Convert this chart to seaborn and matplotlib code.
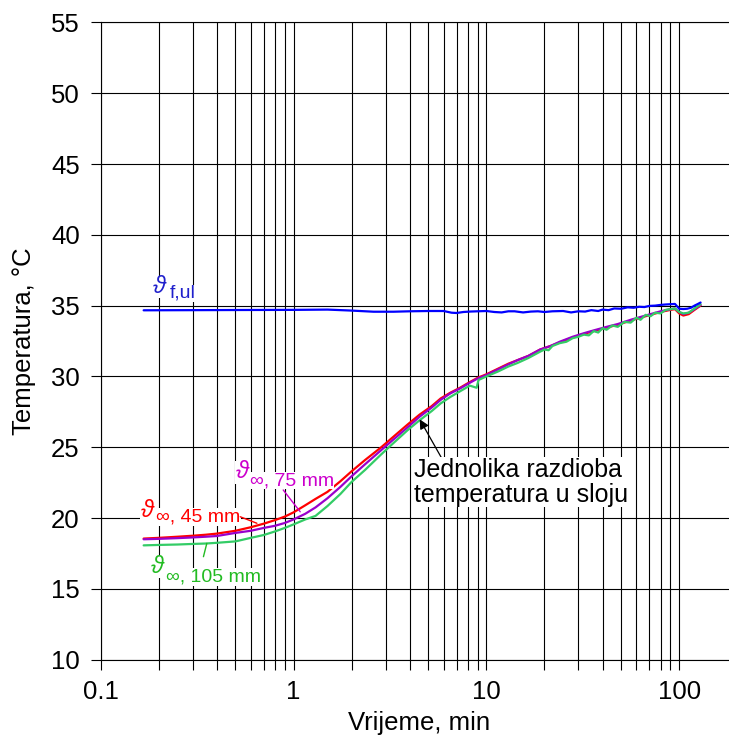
import numpy as np
import pandas as pd
import matplotlib
matplotlib.use("Agg")
import matplotlib.pyplot as plt
from matplotlib.ticker import FixedLocator, FuncFormatter, NullFormatter
import seaborn as sns

# ---------------------------------------------------------
# Data
# ---------------------------------------------------------

# time grid for the layer curves 45 mm and 75 mm [min]
t_layer = [0.167, 0.2, 0.25, 0.3, 0.35, 0.4, 0.5, 0.6, 0.7, 0.8, 0.9, 1.0,
           1.15, 1.3, 1.5, 1.75, 2.0, 2.35, 2.85, 3.3, 3.9, 4.5, 5.2, 5.8,
           6.5, 7.3, 8.2, 9.0, 10, 11.5, 13, 14.5, 16.5, 19, 21.5, 24, 28,
           32, 36, 42, 48, 56, 63, 71, 80, 90, 95, 100, 105, 112, 120, 129]

T_45 = [18.55, 18.6, 18.68, 18.75, 18.82, 18.9, 19.1, 19.35, 19.6, 19.85,
        20.1, 20.4, 20.9, 21.35, 21.85, 22.6, 23.3, 24.1, 25.0, 25.75, 26.6,
        27.3, 27.9, 28.45, 28.85, 29.2, 29.6, 29.9, 30.15, 30.55, 30.9,
        31.15, 31.45, 31.9, 32.15, 32.4, 32.75, 33.0, 33.2, 33.45, 33.65,
        33.95, 34.15, 34.35, 34.55, 34.7, 34.75, 34.45, 34.3, 34.4, 34.7, 35.0]

T_75 = [18.5, 18.53, 18.58, 18.63, 18.68, 18.73, 18.95, 19.1, 19.3, 19.45,
        19.65, 19.9, 20.3, 20.75, 21.4, 22.2, 22.95, 23.8, 24.8, 25.55, 26.4,
        27.15, 27.8, 28.35, 28.8, 29.15, 29.55, 29.85, 30.1, 30.5, 30.85,
        31.15, 31.45, 31.9, 32.15, 32.45, 32.8, 33.05, 33.25, 33.5, 33.7,
        34.0, 34.2, 34.4, 34.6, 34.75, 34.8, 34.55, 34.4, 34.5, 34.75, 35.05]

t_105 = [0.167, 0.2, 0.25, 0.3, 0.35, 0.4, 0.5, 0.6, 0.7, 0.8, 0.9, 1.0,
         1.15, 1.3, 1.5, 1.75, 2.0, 2.35, 2.85, 3.3, 3.9, 4.5, 5.2, 5.8,
         6.5, 7.3, 8.2, 8.9, 9.1, 10, 11.5, 13, 14.5, 16.5, 19, 20, 21, 22,
         24, 26, 28, 30, 32, 34, 36, 38, 40, 42, 45, 48, 52, 56, 60, 63, 67,
         71, 75, 80, 85, 90, 95, 100, 105, 112, 120, 129]

T_105 = [18.07, 18.1, 18.13, 18.17, 18.2, 18.25, 18.35, 18.6, 18.8, 19.05,
         19.3, 19.55, 19.9, 20.15, 20.85, 21.7, 22.55, 23.4, 24.5, 25.3, 26.2,
         26.9, 27.55, 28.1, 28.55, 28.95, 29.35, 29.2, 29.75, 30.0, 30.35,
         30.7, 30.95, 31.3, 31.75, 31.9, 31.85, 32.15, 32.35, 32.45, 32.7,
         32.8, 32.95, 32.9, 33.2, 33.1, 33.4, 33.3, 33.6, 33.5, 33.85, 33.8,
         34.15, 34.0, 34.35, 34.25, 34.5, 34.45, 34.7, 34.75, 34.8, 34.55,
         34.45, 34.5, 34.8, 35.1]

t_ul = [0.167, 0.3, 0.5, 1.0, 1.5, 2.0, 2.6, 3.3, 4.0, 5.0, 6.0, 6.6, 7.0,
        7.6, 8.2, 9.0, 10, 11, 12, 13, 14, 15.5, 17, 18.5, 20, 22, 25, 27.5,
        30, 32.5, 35, 38, 40, 43, 46, 50, 54, 58, 62, 66, 70, 75, 80, 85, 90,
        95, 100, 105, 110, 115, 120, 125, 129]

T_ul = [34.67, 34.68, 34.69, 34.7, 34.72, 34.65, 34.57, 34.57, 34.6, 34.62,
        34.62, 34.5, 34.48, 34.55, 34.58, 34.6, 34.62, 34.55, 34.52, 34.6,
        34.6, 34.52, 34.58, 34.6, 34.55, 34.6, 34.62, 34.52, 34.6, 34.58,
        34.68, 34.62, 34.72, 34.68, 34.8, 34.78, 34.88, 34.85, 34.92, 34.9,
        34.98, 35.0, 35.05, 35.08, 35.1, 35.12, 34.78, 34.76, 34.78, 34.85,
        35.0, 35.12, 35.22]

series_names = ["45", "75", "105", "ul"]
colors = {"45": "#FF0000", "75": "#9900CC", "105": "#33CC66", "ul": "#0000FF"}

y_ticks = [10, 15, 20, 25, 30, 35, 40, 45, 50, 55]
x_ticks = [0.1, 1, 10, 100]

df = pd.concat([
    pd.DataFrame({"t": t_layer, "T": T_45, "serija": "45"}),
    pd.DataFrame({"t": t_layer, "T": T_75, "serija": "75"}),
    pd.DataFrame({"t": t_105, "T": T_105, "serija": "105"}),
    pd.DataFrame({"t": t_ul, "T": T_ul, "serija": "ul"}),
], ignore_index=True)

# ---------------------------------------------------------
# Style
# ---------------------------------------------------------

sns.set_theme(style="ticks")
plt.rcParams["font.family"] = ["Liberation Sans", "DejaVu Sans"]
plt.rcParams["mathtext.fontset"] = "custom"
plt.rcParams["mathtext.rm"] = "Liberation Sans"
plt.rcParams["mathtext.it"] = "Liberation Sans:italic"
plt.rcParams["mathtext.bf"] = "Liberation Sans:bold"
for key in ["text.color", "axes.labelcolor", "xtick.color", "ytick.color"]:
    plt.rcParams[key] = "black"

fig = plt.figure(figsize=(7.29, 7.40), dpi=100)
ax = fig.add_axes([100.7 / 729, 0.1086, (737.3 - 100.7) / 729, 0.8611])

sns.lineplot(data=df, x="t", y="T", hue="serija", hue_order=series_names,
             palette=colors, estimator=None, sort=True, linewidth=1.6,
             legend=False, ax=ax, zorder=3)

ax.set_xscale("log")
ax.set_xlim(0.1, 200)
ax.set_ylim(10, 55)
ax.yaxis.set_major_locator(FixedLocator(y_ticks))
ax.xaxis.set_major_locator(FixedLocator(x_ticks))
ax.xaxis.set_major_formatter(FuncFormatter(lambda v, p: f"{v:g}"))
ax.xaxis.set_minor_formatter(NullFormatter())

ax.grid(which="major", axis="both", color="black", linewidth=0.8)
ax.grid(which="minor", axis="x", color="black", linewidth=0.8)
ax.tick_params(which="both", direction="out", length=7, width=0.8,
               color="black", labelcolor="black", labelsize=18.5, pad=8)
for s in ax.spines.values():
    s.set_color("black")
    s.set_linewidth(0.8)

ax.set_xlabel("Vrijeme, min", fontsize=18.5, labelpad=5)
ax.set_ylabel("Temperatura, °C", fontsize=18.5, labelpad=11)

# ---------------------------------------------------------
# Curve labels: theta symbol + larger "subscript" text
# ---------------------------------------------------------

box = dict(facecolor="white", edgecolor="none", pad=0.3)

def curve_label(theta_xy, sub_xy, sub, color, line=None):
    ax.text(*theta_xy, r"$\vartheta$", color=color, fontsize=17,
            ha="left", va="baseline", bbox=box, zorder=5)
    ax.text(*sub_xy, sub, color=color, fontsize=14,
            ha="left", va="baseline", bbox=box, zorder=5)
    if line is not None:
        ax.annotate("", xy=line[1], xytext=line[0], zorder=5,
                    arrowprops=dict(arrowstyle="-", color=color, lw=1,
                                    shrinkA=0, shrinkB=0))

curve_label((0.184, 35.89), (0.228, 35.54), "f,ul", "#2020CC")
curve_label((0.498, 22.82), (0.594, 22.33), "∞, 75 mm", "#CC00CC",
            line=((0.884, 21.98), (1.083, 20.44)))
curve_label((0.16, 20.09), (0.1935, 19.74), "∞, 45 mm", "#FF0000",
            line=((0.529, 20.09), (0.6456, 19.63)))
curve_label((0.1803, 16.12), (0.2183, 15.50), "∞, 105 mm", "#22BB22",
            line=((0.341, 17.27), (0.355, 18.21)))

ax.annotate("Jednolika razdioba\ntemperatura u sloju", xy=(4.51, 26.97),
            xytext=(4.2, 24.24), color="black", fontsize=18,
            ha="left", va="top", linespacing=1.05, bbox=box, zorder=4,
            arrowprops=dict(arrowstyle="-|>", color="black", lw=0.9,
                            mutation_scale=14, shrinkA=0, shrinkB=0,
                            relpos=(0.13, 1.0)))

fig.savefig("out.png", dpi=100)
